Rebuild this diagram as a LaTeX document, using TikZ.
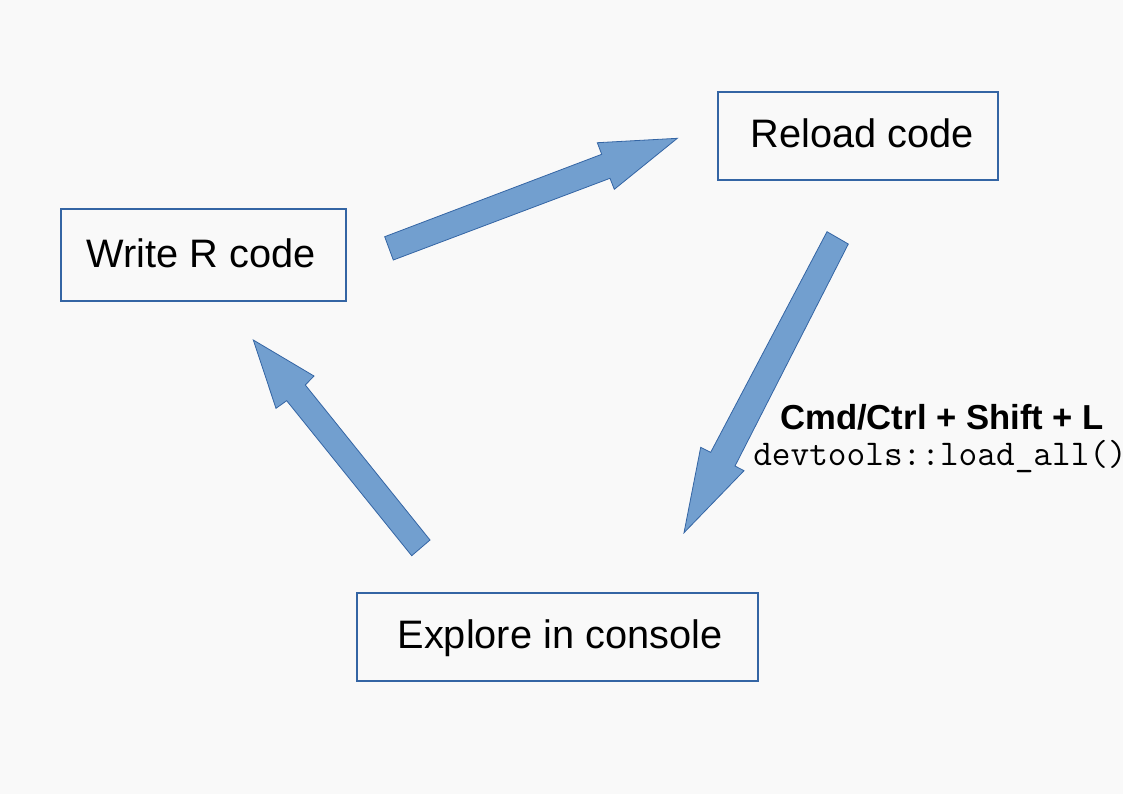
\documentclass[tikz,border=0pt]{standalone}
\usepackage{fontspec}
\setmainfont{Liberation Sans}
\definecolor{bg}{HTML}{F9F9F9}
\definecolor{boxline}{HTML}{3465A4}
\definecolor{arrowfill}{HTML}{729FCF}
\tikzset{
  stepbox/.style={draw=boxline, line width=1.9pt, fill=bg, inner sep=0pt},
  steptext/.style={font=\fontsize{29.8pt}{34pt}\selectfont, text=black, inner sep=0pt, anchor=base west},
  blockarrow/.style={fill=arrowfill, draw=boxline, line width=0.6pt, line join=miter},
  keylabel/.style={font=\bfseries\fontsize{26pt}{30pt}\selectfont, inner sep=0pt},
  codelabel/.style={font=\ttfamily\fontsize{27.2pt}{30pt}\selectfont, inner sep=0pt},
}
\begin{document}
\begin{tikzpicture}[x=0.75pt,y=-0.75pt]
\fill[bg] (0,0) rectangle (1123,794);
\useasboundingbox (0,0) rectangle (1123,794);

\node[stepbox, minimum width=213.75pt, minimum height=69pt] (write) at (203.5,255) {};
\node[stepbox, minimum width=210pt, minimum height=66pt] (reload) at (858,136) {};
\node[stepbox, minimum width=300.75pt, minimum height=66pt] (explore) at (557.5,637) {};
\node[steptext] (writet) at (86.7,267.3) {Write R code};
\node[steptext] (reloadt) at (750.7,147.3) {Reload code};
\node[steptext] (exploret) at (397.3,648.3) {Explore in console};

% arrow write -> reload
\draw[blockarrow] (384.7,236.7) -- (601.7,154.3) -- (597.3,142.7) -- (677.3,138.3)
  -- (614.3,189.3) -- (610,178.3) -- (393.3,260) -- cycle;
% arrow reload -> explore
\draw[blockarrow] (827,231.7) -- (848.3,244) -- (735,466) -- (744,470.7)
  -- (684,532.7) -- (700.7,447.3) -- (710.7,452.3) -- cycle;
% arrow explore -> write
\draw[blockarrow] (253.3,340) -- (314,376) -- (305.3,385) -- (430,540)
  -- (411.7,555.7) -- (286.7,400.7) -- (276,408.3) -- cycle;

\node[keylabel, anchor=base west] (keys) at (780,429.5) {Cmd/Ctrl + Shift + L};
\node[codelabel, anchor=base west] (code) at (753,465) {devtools::load\_all()};
\end{tikzpicture}
\end{document}
